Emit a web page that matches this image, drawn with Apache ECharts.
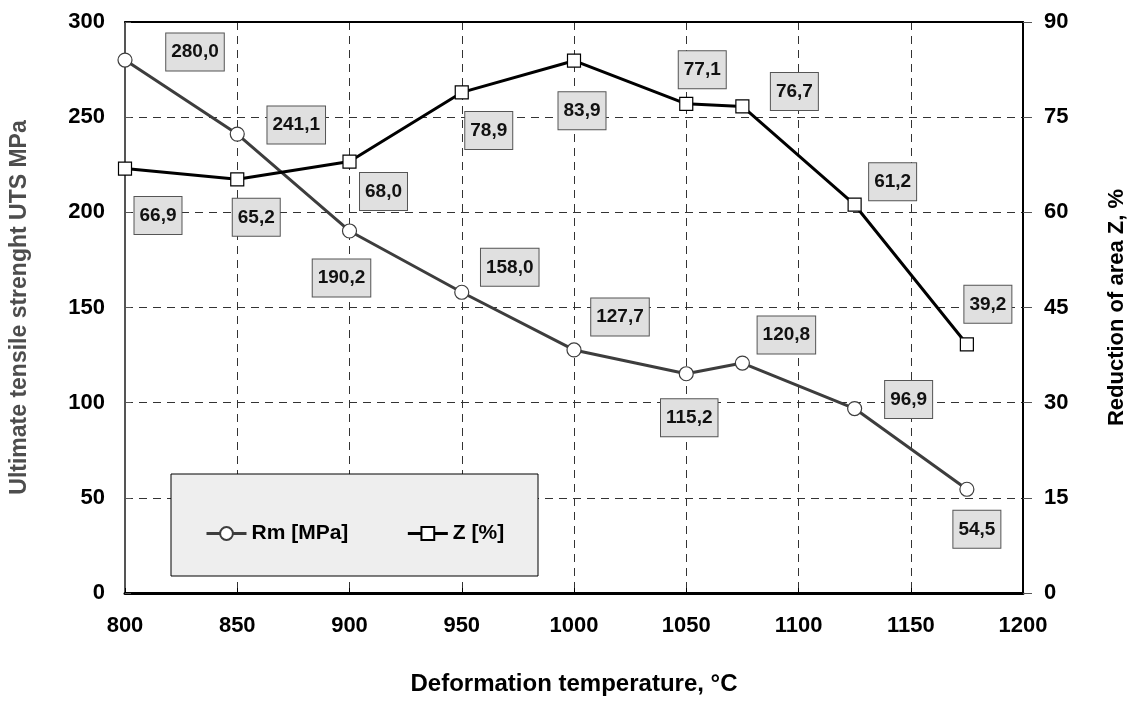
<!DOCTYPE html>
<html>
<head>
<meta charset="utf-8">
<script src="https://cdn.jsdelivr.net/npm/echarts@6/dist/echarts.min.js"></script>
<style>
html,body{margin:0;padding:0;background:#fff;}
#chart{width:1136px;height:701px;}
</style>
</head>
<body>
<div id="chart"></div>
<script>
// ---- data ----
const temperatures = [800, 850, 900, 950, 1000, 1050, 1075, 1125, 1175];
const rmValues = [280.0, 241.1, 190.2, 158.0, 127.7, 115.2, 120.8, 96.9, 54.5];
const zValues = [66.9, 65.2, 68.0, 78.9, 83.9, 77.1, 76.7, 61.2, 39.2];
const xTicks = [800, 850, 900, 950, 1000, 1050, 1100, 1150, 1200];
const leftTicks = [0, 50, 100, 150, 200, 250, 300];
const rightTicks = [0, 15, 30, 45, 60, 75, 90];
const seriesNames = ['Rm [MPa]', 'Z [%]'];

// ---- label placement (styling, not data) ----
const rmLabelOffsets = [[70,-8],[59,-9],[-8,47],[48,-25],[46,-33],[3,44],[44,-28],[54,-9],[10,40]];
const zLabelOffsets = [[33,47],[19,38],[34,30],[27,38],[8,50],[16,-34],[52,-15],[38,-23],[21,-40]];

const FONT = "'Liberation Sans', Arial, Helvetica, sans-serif";
const fmt = v => v.toFixed(1).replace('.', ',');

const labelBase = {
  show: true,
  position: 'inside',
  formatter: p => fmt(p.value[1]),
  fontFamily: FONT,
  fontSize: 19,
  fontWeight: 'bold',
  color: '#111',
  backgroundColor: '#e0e0e0',
  borderColor: '#555',
  borderWidth: 1,
  padding: [9, 5, 9, 5]
};

function buildData(vals, offs) {
  return temperatures.map((t, i) => ({
    value: [t, vals[i]],
    label: Object.assign({}, labelBase, { offset: offs[i] })
  }));
}

const chart = echarts.init(document.getElementById('chart'), null, { renderer: 'canvas' });

const gridLine = { show: true, lineStyle: { color: '#333', width: 1, type: [8, 6] } };

const option = {
  animation: false,
  backgroundColor: '#fff',
  grid: { left: 118, right: 102, top: 22, bottom: 93 },
  graphic: [{
    type: 'rect',
    z: 3,
    shape: { x: 171, y: 474, width: 367, height: 102 },
    style: { fill: '#eeeeee', stroke: '#000', lineWidth: 1 }
  }],
  legend: {
    z: 10,
    left: 200,
    top: 518,
    itemWidth: 40,
    itemHeight: 16,
    itemGap: 58,
    lineStyle: { width: 3 },
    textStyle: { fontFamily: FONT, fontSize: 21, fontWeight: 'bold', color: '#000' },
    data: seriesNames
  },
  xAxis: [{
    type: 'value',
    min: xTicks[0],
    max: xTicks[xTicks.length - 1],
    interval: 50,
    position: 'bottom',
    name: 'Deformation temperature, °C',
    nameLocation: 'middle',
    nameGap: 79,
    nameTextStyle: { fontFamily: FONT, fontSize: 24, fontWeight: 'bold', color: '#000' },
    axisLine: { show: true, lineStyle: { color: '#000', width: 3 } },
    axisTick: { show: true, inside: true, length: 5, lineStyle: { color: '#000' } },
    axisLabel: { margin: 22, fontFamily: FONT, fontSize: 22, fontWeight: 'bold', color: '#000', formatter: v => String(v) },
    splitLine: gridLine
  }, {
    type: 'value',
    min: xTicks[0],
    max: xTicks[xTicks.length - 1],
    interval: 50,
    position: 'top',
    axisLine: { show: true, onZero: false, lineStyle: { color: '#000', width: 2 } },
    axisTick: { show: false },
    axisLabel: { show: false },
    splitLine: { show: false }
  }],
  yAxis: [{
    type: 'value',
    min: leftTicks[0],
    max: leftTicks[leftTicks.length - 1],
    interval: 50,
    position: 'left',
    name: 'Ultimate tensile strenght UTS MPa',
    nameLocation: 'middle',
    nameRotate: 90,
    nameGap: 94,
    nameTextStyle: { fontFamily: FONT, fontSize: 23, fontWeight: 'bold', color: '#4d4d4d' },
    axisLine: { show: true, lineStyle: { color: '#555', width: 2 } },
    axisTick: { show: true, inside: true, length: 6, lineStyle: { color: '#555' } },
    axisLabel: { margin: 20, fontFamily: FONT, fontSize: 22, fontWeight: 'bold', color: '#000', formatter: v => String(v) },
    splitLine: gridLine
  }, {
    type: 'value',
    min: rightTicks[0],
    max: rightTicks[rightTicks.length - 1],
    interval: 15,
    position: 'right',
    name: 'Reduction of area Z, %',
    nameLocation: 'middle',
    nameRotate: 90,
    nameGap: 83,
    nameTextStyle: { fontFamily: FONT, fontSize: 22, fontWeight: 'bold', color: '#000' },
    axisLine: { show: true, lineStyle: { color: '#000', width: 2 } },
    axisTick: { show: true, length: 9, lineStyle: { color: '#555' } },
    axisLabel: { margin: 21, fontFamily: FONT, fontSize: 22, fontWeight: 'bold', color: '#000', formatter: v => String(v) },
    splitLine: { show: false }
  }],
  series: [{
    name: seriesNames[0],
    type: 'line',
    xAxisIndex: 0,
    yAxisIndex: 0,
    clip: false,
    z: 4,
    symbol: 'circle',
    symbolSize: 14,
    lineStyle: { color: '#3d3d3d', width: 3 },
    itemStyle: { color: '#fff', borderColor: '#3d3d3d', borderWidth: 1.2 },
    data: buildData(rmValues, rmLabelOffsets)
  }, {
    name: seriesNames[1],
    type: 'line',
    xAxisIndex: 0,
    yAxisIndex: 1,
    clip: false,
    z: 4,
    symbol: 'rect',
    symbolSize: 13,
    lineStyle: { color: '#000', width: 3 },
    itemStyle: { color: '#fff', borderColor: '#000', borderWidth: 1.2 },
    data: buildData(zValues, zLabelOffsets)
  }]
};

chart.setOption(option);
</script>
</body>
</html>
